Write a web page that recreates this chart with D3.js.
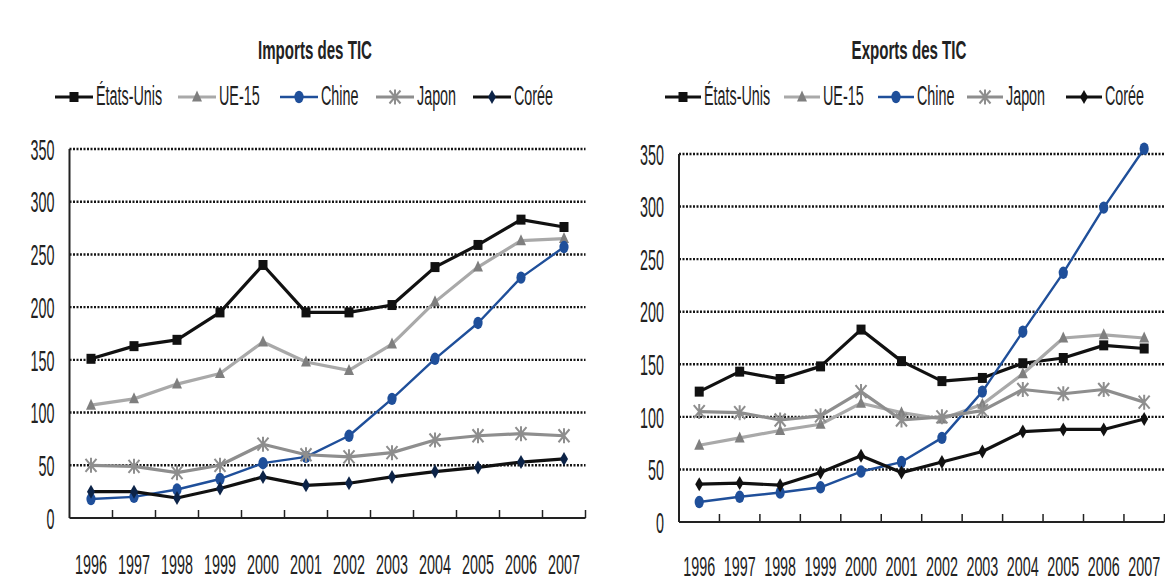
<!DOCTYPE html>
<html>
<head>
<meta charset="utf-8">
<script src="https://cdn.jsdelivr.net/npm/d3@7"></script>
<style>
  body { margin: 0; background: #fff; }
  svg { display: block; }
</style>
</head>
<body>
<svg id="chart" width="1165" height="583"></svg>
<script>
// ---- Data -------------------------------------------------------------
const years = ["1996","1997","1998","1999","2000","2001","2002","2003","2004","2005","2006","2007"];
const seriesNames = ["États-Unis", "UE-15", "Chine", "Japon", "Corée"];
const yTicks = [0, 50, 100, 150, 200, 250, 300, 350];

// Imports des TIC
const importsUS = [151, 163, 169, 195, 240, 195, 195, 202, 238, 259, 283, 276];
const importsEU = [107, 113, 127, 137, 167, 148, 140, 165, 205, 238, 263, 265];
const importsCN = [18, 20, 27, 37, 52, 58, 78, 113, 151, 185, 228, 257];
const importsJP = [50, 49, 43, 50, 70, 60, 58, 62, 74, 78, 80, 78];
const importsKR = [25, 25, 19, 28, 39, 31, 33, 39, 44, 48, 53, 56];

// Exports des TIC
const exportsUS = [124, 143, 136, 148, 183, 153, 134, 137, 151, 156, 168, 165];
const exportsEU = [73, 80, 87, 93, 113, 104, 98, 112, 141, 175, 178, 175];
const exportsCN = [19, 24, 28, 33, 48, 57, 80, 124, 181, 237, 299, 355];
const exportsJP = [105, 104, 97, 101, 124, 97, 100, 106, 126, 122, 126, 114];
const exportsKR = [36, 37, 35, 47, 63, 47, 57, 67, 86, 88, 88, 98];

// ---- Styling ----------------------------------------------------------
const FONT = "'Liberation Sans', Arial, sans-serif";
const TEXT_COLOR = "#222";

const seriesStyle = {
  "États-Unis": { stroke: "#111", width: 3.2, marker: "square",   fill: "#111" },
  "UE-15":      { stroke: "#a9a9a9", width: 3.2, marker: "triangle", fill: "#7f7f7f" },
  "Chine":      { stroke: "#1f4f9a", width: 2.4, marker: "ellipse",  fill: "#1f4f9a" },
  "Japon":      { stroke: "#8e8e8e", width: 3.2, marker: "star",     fill: "none" },
  "Corée":      { stroke: "#111", width: 3.2, marker: "diamond",  fill: "#111" }
};

const markerPath = {
  square:   "M-4.5,-5H4.5V5H-4.5Z",
  triangle: "M0,-6.5L5,4.5L-5,4.5Z",
  diamond:  "M0,-7L4,0L0,7L-4,0Z",
  star:     "M0,-7.5V7.5M-5.5,-6.5L5.5,6.5M5.5,-6.5L-5.5,6.5"
};

// text drawn in a narrow, tall face
function label(sel, x, y, str, o) {
  return sel.append("text")
    .attr("transform", `translate(${x},${y}) scale(${o.sx || 0.82},${o.sy || 1.65})`)
    .attr("text-anchor", o.anchor || "start")
    .attr("dy", o.dy || 0)
    .style("font-family", FONT)
    .style("font-size", (o.size || 17.5) + "px")
    .style("font-weight", o.weight || "normal")
    .style("fill", TEXT_COLOR)
    .text(str);
}

function drawMarker(g, type, x, y, st, override) {
  const fill = (override && override.fill) || st.fill;
  if (type === "ellipse") {
    g.append("ellipse").attr("cx", x).attr("cy", y).attr("rx", 4.6).attr("ry", 6.2)
      .attr("fill", fill);
  } else if (type === "star") {
    g.append("path").attr("transform", `translate(${x},${y})`).attr("d", markerPath.star)
      .attr("fill", "none").attr("stroke", st.stroke).attr("stroke-width", 2);
  } else {
    g.append("path").attr("transform", `translate(${x},${y})`).attr("d", markerPath[type])
      .attr("fill", fill);
  }
}

const svg = d3.select("#chart");

function drawPanel(cfg) {
  const g = svg.append("g");
  const x = d3.scalePoint().domain(years).range([cfg.x0, cfg.x1]).padding(0.5);
  const y = d3.scaleLinear().domain([0, 350]).range([cfg.y0, cfg.y1]);
  const step = x.step();

  // title
  label(g, cfg.titleX, 59, cfg.title, { anchor: "middle", weight: "bold", size: 18.4, sy: 1.36 });

  // legend
  seriesNames.forEach((name, i) => {
    const st = seriesStyle[name];
    const lx = cfg.legendX[i];
    const ly = 97;
    g.append("line").attr("x1", lx).attr("x2", lx + cfg.legendLen)
      .attr("y1", ly).attr("y2", ly)
      .attr("stroke", st.stroke).attr("stroke-width", st.width);
    drawMarker(g, st.marker, lx + cfg.legendLen / 2, ly, st, cfg.override[name]);
    label(g, lx + cfg.legendLen + 3, 105, name, { sy: 1.62 });
  });

  // gridlines
  g.selectAll(".grid").data(yTicks.filter(d => d > 0)).join("line")
    .attr("x1", cfg.x0).attr("x2", cfg.x1)
    .attr("y1", d => y(d)).attr("y2", d => y(d))
    .attr("stroke", "#151515").attr("stroke-width", 2.4)
    .attr("stroke-dasharray", "2,1.5");

  // axes
  g.append("line").attr("x1", cfg.x0).attr("x2", cfg.x0)
    .attr("y1", y(0)).attr("y2", y(350))
    .attr("stroke", "#222").attr("stroke-width", 2);
  g.append("line").attr("x1", cfg.x0).attr("x2", cfg.x1)
    .attr("y1", y(0)).attr("y2", y(0))
    .attr("stroke", "#222").attr("stroke-width", 2);

  // category separators on the x axis
  d3.range(1, years.length + 1).forEach(i => {
    const tx = cfg.x0 + i * step;
    g.append("line").attr("x1", tx).attr("x2", tx)
      .attr("y1", y(0)).attr("y2", y(0) - 8)
      .attr("stroke", "#222").attr("stroke-width", 1.5);
  });

  // y tick labels
  yTicks.forEach(v => {
    label(g, cfg.x0 - 15, y(v), String(v), { anchor: "end", dy: "0.358em", sy: 1.7 });
  });
  // x tick labels
  years.forEach(yr => {
    label(g, x(yr), cfg.yearY, yr, { anchor: "middle", dy: "0.358em", sy: 1.6 });
  });

  // series
  const line = d3.line().x((d, i) => x(years[i])).y(d => y(d));
  cfg.data.forEach((vals, k) => {
    const name = seriesNames[k];
    const st = seriesStyle[name];
    const sg = g.append("g");
    sg.append("path").attr("d", line(vals)).attr("fill", "none")
      .attr("stroke", st.stroke).attr("stroke-width", st.width)
      .attr("stroke-linejoin", "round");
    vals.forEach((v, i) => drawMarker(sg, st.marker, x(years[i]), y(v), st, cfg.override[name]));
  });
}

drawPanel({
  title: "Imports des TIC", titleX: 315,
  x0: 69.5, x1: 585.5, y0: 518, y1: 149, yearY: 564,
  legendX: [55, 178, 280, 376, 473], legendLen: 38,
  override: { "Corée": { fill: "#0c2347" } },
  data: [importsUS, importsEU, importsCN, importsJP, importsKR]
});

drawPanel({
  title: "Exports des TIC", titleX: 909,
  x0: 679, x1: 1164.4, y0: 522, y1: 154, yearY: 566,
  legendX: [665, 784, 878, 967, 1066], legendLen: 36,
  override: {},
  data: [exportsUS, exportsEU, exportsCN, exportsJP, exportsKR]
});
</script>
</body>
</html>
